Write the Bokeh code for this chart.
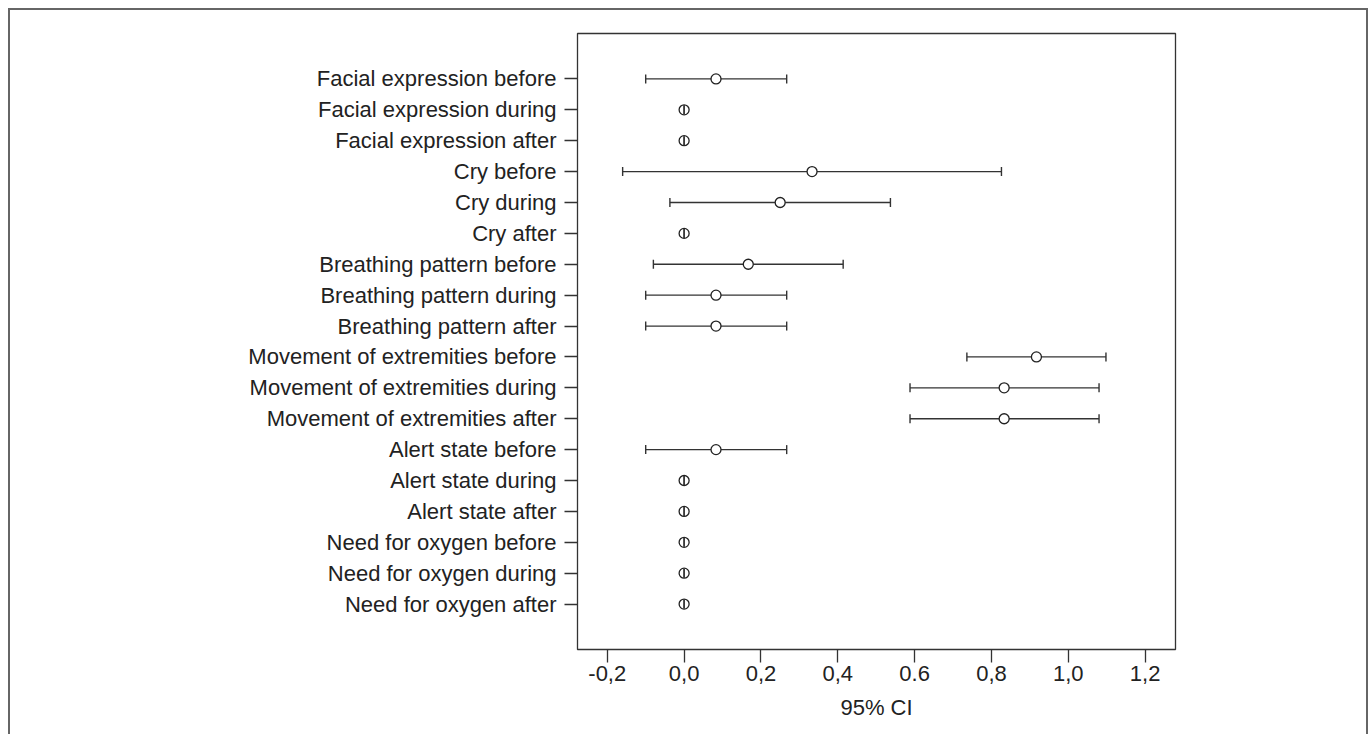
import math
from bokeh.plotting import figure
from bokeh.models import Range1d, FixedTicker, ColumnDataSource
from bokeh.embed import file_html
from bokeh.resources import INLINE

labels = [
    "Facial expression before", "Facial expression during", "Facial expression after",
    "Cry before", "Cry during", "Cry after",
    "Breathing pattern before", "Breathing pattern during", "Breathing pattern after",
    "Movement of extremities before", "Movement of extremities during", "Movement of extremities after",
    "Alert state before", "Alert state during", "Alert state after",
    "Need for oxygen before", "Need for oxygen during", "Need for oxygen after",
]
means = [0.083, 0.0, 0.0, 0.333, 0.25, 0.0, 0.167, 0.083, 0.083,
         0.917, 0.833, 0.833, 0.083, 0.0, 0.0, 0.0, 0.0, 0.0]
lower = [-0.10, 0.0, 0.0, -0.16, -0.037, 0.0, -0.08, -0.10, -0.10,
         0.736, 0.588, 0.588, -0.10, 0.0, 0.0, 0.0, 0.0, 0.0]
upper = [0.267, 0.0, 0.0, 0.826, 0.537, 0.0, 0.414, 0.267, 0.267,
         1.098, 1.080, 1.080, 0.267, 0.0, 0.0, 0.0, 0.0, 0.0]
x_ticks = [-0.2, 0.0, 0.2, 0.4, 0.6, 0.8, 1.0, 1.2]
x_tick_labels = ["-0,2", "0,0", "0,2", "0,4", "0.6", "0,8", "1,0", "1,2"]
x_title = "95% CI"

rows = list(range(len(labels)))
src = ColumnDataSource(dict(y=rows, m=means, lo=lower, hi=upper))

FONT = "Liberation Sans"
INK = "#333333"
TXT = "#222222"

p = figure(width=1360, height=726, output_backend="svg", toolbar_location=None,
           x_range=Range1d(-0.2775, 1.279),
           y_range=Range1d(len(labels) - 1 + 1.47, -1.47),
           min_border_left=567, min_border_right=195,
           min_border_top=23, min_border_bottom=87)
p.styles = {"margin-left": "8px", "margin-top": "8px",
            "border-top": "2px solid #666666",
            "border-left": "2px solid #666666",
            "border-right": "2px solid #666666",
            "box-sizing": "border-box"}
p.grid.visible = False
p.outline_line_color = INK
p.outline_line_width = 1.3
p.background_fill_color = "white"
p.border_fill_color = "white"

# stems
p.segment(x0="lo", x1="hi", y0="y", y1="y", source=src, line_color=INK, line_width=1.3)
# points
p.scatter(x="m", y="y", source=src, marker="circle", size=10,
          fill_color="white", line_color=TXT, line_width=1.3)
# caps (drawn on top so the zero-width intervals show through the circle)
for col in ("lo", "hi"):
    p.scatter(x=col, y="y", source=src, marker="dash", size=9, angle=math.pi / 2,
              line_color=INK, line_width=1.4)

xa = p.xaxis[0]
xa.ticker = FixedTicker(ticks=x_ticks)
xa.major_label_overrides = {t: l for t, l in zip(x_ticks, x_tick_labels)}
xa.axis_label = x_title
ya = p.yaxis[0]
ya.ticker = FixedTicker(ticks=rows)
ya.major_label_overrides = {i: l for i, l in zip(rows, labels)}

for ax in (xa, ya):
    ax.axis_line_color = None
    ax.major_tick_line_color = INK
    ax.major_tick_line_width = 1.3
    ax.major_tick_out = 13
    ax.major_tick_in = 0
    ax.minor_tick_line_color = None
    ax.major_label_text_font = FONT
    ax.major_label_text_font_size = "22px"
    ax.major_label_text_color = TXT
    ax.axis_label_text_font = FONT
    ax.axis_label_text_font_size = "22px"
    ax.axis_label_text_font_style = "normal"
    ax.axis_label_text_color = TXT
ya.major_label_standoff = 8
xa.major_label_standoff = 3
xa.axis_label_standoff = 11

open("out.html", "w").write(file_html(p, INLINE))
